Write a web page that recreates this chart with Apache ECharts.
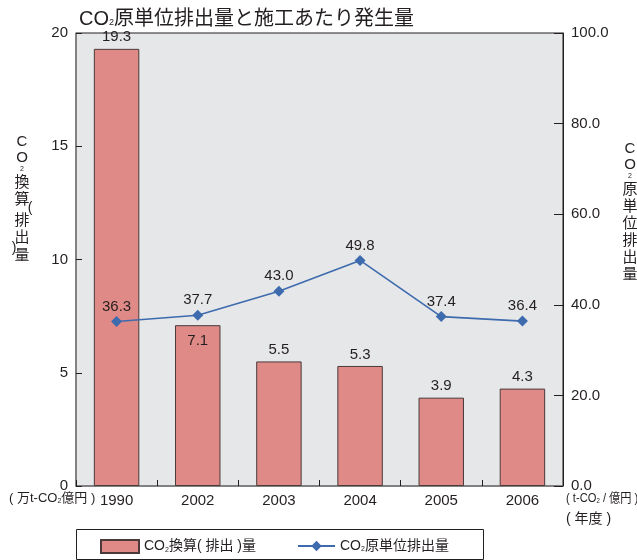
<!DOCTYPE html>
<html><head><meta charset="utf-8">
<script src="https://cdn.jsdelivr.net/npm/echarts@6/dist/echarts.min.js"></script>
<style>html,body{margin:0;padding:0;background:#fff}#c{width:637px;height:560px}</style>
</head><body><div id="c"></div>
<script>
const years = ['1990','2002','2003','2004','2005','2006'];
const emission = [19.3, 7.1, 5.5, 5.3, 3.9, 4.3];
const intensity = [36.3, 37.7, 43.0, 49.8, 37.4, 36.4];
const leftTicks = [0,5,10,15,20];
const rightTicks = [0,20,40,60,80,100];

const FONT = '"Liberation Sans", Arial, "Noto Sans CJK JP", sans-serif';
const TXT = '#231f20';
const chart = echarts.init(document.getElementById('c'));

function place(list, cx){
  return list.map(([t,y,dx,fs])=>({type:'text', x:cx+(dx||0), y:y, style:{text:t, fontSize:fs||15, fontFamily:FONT, fill:TXT, align:'center', verticalAlign:'top'}}));
}
const leftName = place([['C',134],['O',150],['2',166,0,7],['換',175],['算',192],['(',201,8,14],['排',213],['出',230],[')',241,-8,14],['量',248]], 22);
const rightName = place([['C',141],['O',157],['2',173,0,7],['原',182],['単',199],['位',216],['排',233],['出',250],['量',267]], 630);

const rich = {n:{fontSize:14,fontFamily:FONT,color:TXT}, s:{fontSize:7,fontFamily:FONT,color:TXT,verticalAlign:'bottom',padding:[6,0,0,0]}};
const richG = {n:{fontSize:13,fontFamily:FONT,fill:TXT}, s:{fontSize:7,fontFamily:FONT,fill:TXT,padding:[5,0,0,0]}};

chart.setOption({
  animation:false,
  textStyle:{fontFamily:FONT},
  title:{text:'{n|CO}{s|2}{n|原単位排出量と施工あたり発生量}', left:74, top:4,
    textStyle:{fontWeight:'normal', rich:{n:{fontSize:20,fontWeight:'normal',fontFamily:FONT,color:TXT}, s:{fontSize:9,fontWeight:'normal',fontFamily:FONT,color:TXT,padding:[8,0,0,0]}}}},
  grid:{left:76, right:74, top:33, bottom:74, show:true, backgroundColor:'#e6e7e8', borderColor:'#231f20', borderWidth:1},
  legend:[
    {data:[{name:'CO2換算(排出)量', icon:'rect'}], left:95, top:534, itemWidth:38, itemHeight:13, itemGap:8,
     formatter:()=>'{n|CO}{s|2}{n|換算( 排出 )量}', textStyle:{rich:rich}},
    {data:['CO2原単位排出量'], left:292, top:534, itemWidth:37, itemHeight:13,
     formatter:()=>'{n|CO}{s|2}{n|原単位排出量}', textStyle:{rich:rich}}
  ],
  xAxis:{type:'category', data:years,
    axisLine:{lineStyle:{color:'#808080',width:1.5}},
    axisTick:{show:true, inside:true, length:6, lineStyle:{color:'#231f20'}},
    axisLabel:{fontSize:15, color:TXT, margin:7}},
  yAxis:[
    {type:'value', min:0, max:20, interval:5, position:'left',
     axisLine:{show:true, lineStyle:{color:'#808080',width:1.5}},
     axisTick:{show:true, inside:true, length:6, lineStyle:{color:'#231f20'}},
     splitLine:{show:false},
     axisLabel:{fontSize:15, color:TXT, margin:8}},
    {type:'value', min:0, max:100, interval:20, position:'right',
     axisLine:{show:true, lineStyle:{color:'#231f20'}},
     axisTick:{show:true, inside:true, length:9, lineStyle:{color:'#231f20'}},
     splitLine:{show:false},
     axisLabel:{fontSize:15, color:TXT, margin:8, formatter:v=>v.toFixed(1)}}
  ],
  series:[
    {name:'CO2換算(排出)量', type:'bar', data:emission.map((v,i)=> i===1 ? {value:v, label:{position:'insideTop', distance:8}} : v),
     barWidth:'56%', itemStyle:{color:'#df8a87', borderColor:'#4a3a3a', borderWidth:1},
     label:{show:true, position:'top', fontSize:15, color:TXT, distance:4, formatter:p=>p.value.toFixed(1)}},
    {name:'CO2原単位排出量', type:'line', yAxisIndex:1, data:intensity, symbol:'diamond', symbolSize:11,
     lineStyle:{color:'#3d6bae', width:1.6}, itemStyle:{color:'#3d6bae'},
     label:{show:true, position:'top', fontSize:15, color:TXT, distance:2, formatter:p=>p.value.toFixed(1)}}
  ],
  graphic:[
    {type:'rect', shape:{x:76.5, y:529.5, width:407, height:30}, style:{fill:'none', stroke:'#231f20', lineWidth:1}},
    {type:'text', x:9, y:492, style:{text:'{n|( 万t-CO}{s|2}{n|億円 )}', rich:richG}},
    {type:'text', x:566, y:492, scaleX:0.86, style:{text:'{n|( t-CO}{s|2}{n| / 億円 )}', rich:richG}},
    {type:'text', x:566, y:512, style:{text:'( 年度 )', fontSize:14, fontFamily:FONT, fill:TXT}}
  ].concat(leftName, rightName)
});
</script></body></html>
